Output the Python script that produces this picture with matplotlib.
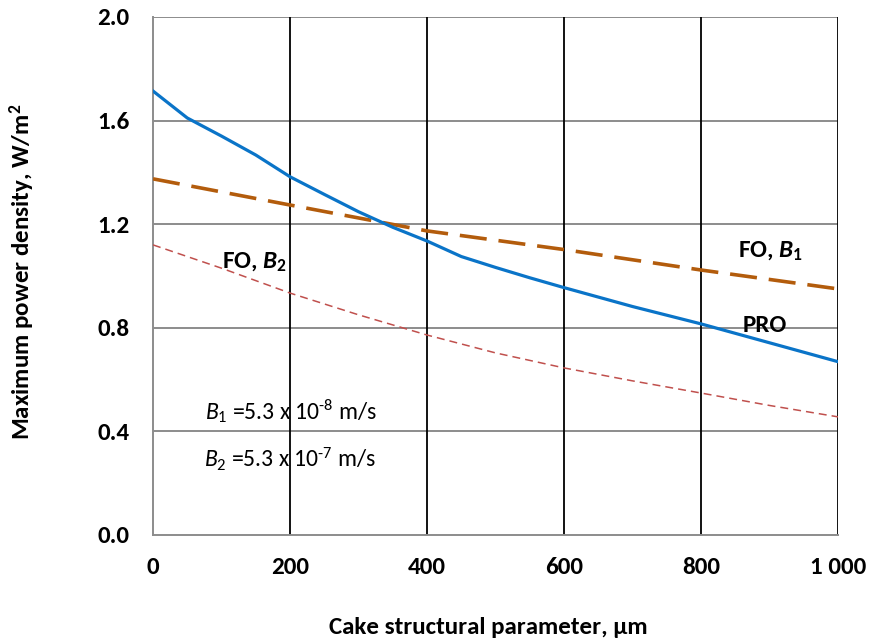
import matplotlib
matplotlib.use("Agg")
import matplotlib.pyplot as plt
from matplotlib.ticker import FuncFormatter

plt.rcParams['font.family'] = ['Carlito', 'DejaVu Sans']
plt.rcParams['mathtext.fontset'] = 'custom'
plt.rcParams['mathtext.rm'] = 'Carlito'
plt.rcParams['mathtext.it'] = 'Carlito:italic'
plt.rcParams['mathtext.bf'] = 'Carlito:bold'
plt.rcParams['mathtext.bfit'] = 'Carlito:italic:bold'

x_pro = [0, 50, 100, 150, 200, 250, 300, 350, 400, 450, 500, 550, 600, 700, 800, 900, 1000]
y_pro = [1.714, 1.61, 1.54, 1.467, 1.383, 1.315, 1.248, 1.188, 1.135, 1.075, 1.033, 0.993, 0.955, 0.882, 0.815, 0.742, 0.669]

x_fo1 = [0, 200, 400, 600, 800, 1000]
y_fo1 = [1.375, 1.274, 1.174, 1.102, 1.023, 0.95]

x_fo2 = [0, 100, 200, 300, 400, 500, 600, 700, 800, 900, 1000]
y_fo2 = [1.12, 1.03, 0.934, 0.85, 0.772, 0.703, 0.645, 0.595, 0.548, 0.50, 0.456]

xticks = [0, 200, 400, 600, 800, 1000]
yticks = [0.0, 0.4, 0.8, 1.2, 1.6, 2.0]

fig = plt.figure(figsize=(8.73, 6.43), dpi=100)
ax = fig.add_axes([0.1753, 0.168, 0.7847, 0.8056])

ax.set_xlim(0, 1000)
ax.set_ylim(0, 2.0)
ax.set_xticks(xticks)
ax.set_yticks(yticks)
ax.xaxis.set_major_formatter(FuncFormatter(lambda v, p: "1 000" if v == 1000 else f"{int(v)}"))
ax.yaxis.set_major_formatter(FuncFormatter(lambda v, p: f"{v:.1f}"))

for yv in yticks[1:]:
    ax.axhline(yv, color='#8c8c8c', lw=1.4, zorder=1)
for xv in xticks[1:]:
    ax.axvline(xv, color='black', lw=1.3, zorder=1)

for s in ['top', 'right']:
    ax.spines[s].set_visible(False)
for s in ['left', 'bottom']:
    ax.spines[s].set_color('#8c8c8c')
    ax.spines[s].set_linewidth(1.4)

ax.tick_params(axis='y', length=0, pad=17, labelsize=18)
ax.tick_params(axis='x', length=0, pad=16, labelsize=18)
fig.canvas.draw()
for lab in ax.get_xticklabels() + ax.get_yticklabels():
    lab.set_fontweight('bold')

ax.plot(x_fo2, y_fo2, color='#c0504d', lw=1.1, dashes=(5.2, 3.3), zorder=3)
ax.plot(x_fo1, y_fo1, color='#b35c0c', lw=2.6, dashes=(7.5, 3.3), zorder=3)
ax.plot(x_pro, y_pro, color='#0a74c8', lw=2.3, zorder=4)

fig.text(488 / 873, 1 - 628 / 643, 'Cake structural parameter, µm', fontsize=18,
         fontweight='bold', ha='center', va='center')
fig.text(22 / 873, 1 - 272 / 643, 'Maximum power density, W/m$^\\mathbf{2}$', fontsize=18,
         fontweight='bold', ha='center', va='center', rotation=90)

ax.text(100.7, 1.054, 'FO, $\\mathbfit{B}_\\mathbf{2}$', fontsize=18, fontweight='bold', ha='left', va='center', zorder=5)
ax.text(902, 1.093, 'FO, $\\mathbfit{B}_\\mathbf{1}$', fontsize=18, fontweight='bold', ha='center', va='center', zorder=5)
ax.text(893, 0.807, 'PRO', fontsize=18, fontweight='bold', ha='center', va='center', zorder=5)
ax.text(76, 0.479, '$\\mathit{B}_1$ =5.3 x 10$^{\\text{-8}}$ m/s', fontsize=17, ha='left', va='center', zorder=5)
ax.text(74.5, 0.29, '$\\mathit{B}_2$ =5.3 x 10$^{\\text{-7}}$ m/s', fontsize=17, ha='left', va='center', zorder=5)

fig.savefig('out.png', dpi=100)
